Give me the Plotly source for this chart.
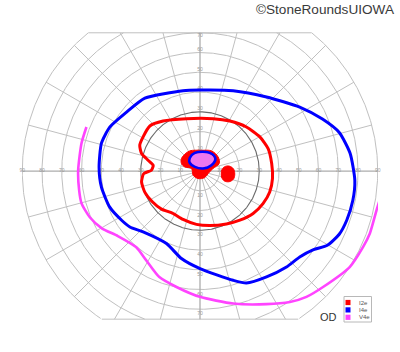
import numpy as np
import plotly.graph_objects as go

W, H = 400, 352
ML, MR, MT, MB = 22, 22, 32, 31

# ---------------- grid definition (degrees of eccentricity) ----------------
ring_ecc = [10, 20, 30, 40, 50, 60, 70, 80, 90]
meridian_deg = list(range(0, 360, 15))
top_limit = 70
bottom_limit = -75
highlight_ring = 30

h_tick_pos = [-90, -80, -70, -60, -50, -40, -30, -20, -10, 10, 20, 30, 40, 50, 60, 70, 80, 90]
h_tick_text = ["90", "80", "70", "60", "50", "40", "30", "20", "10",
               "10", "20", "30", "40", "50", "60", "70", "80", "90"]
v_top_ticks = [10, 20, 30, 40, 50, 60, 70]
v_bottom_ticks = [10, 20, 30, 40, 50, 60, 70]

# ---------------- isopters (x = horizontal ecc., y = vertical ecc., degrees) --
i2e_x = [-28.8, -25.4, -18.7, -6.8, 6.6, 15.1, 23.5, 30.3, 34.5, 36.3, 36.7, 35.3,
         31.9, 26.9, 20.2, 13.4, 5.0, -1.8, -8.6, -14.0, -19.5, -24.0, -27.9,
         -29.6, -28.5, -24.6, -23.7, -26.3, -29.6, -30.5, -28.8]
i2e_y = [17.3, 22.8, 25.3, 26.5, 26.5, 25.3, 22.3, 17.3, 11.4, 3.8, -3.8, -10.6,
         -16.5, -21.5, -24.9, -26.8, -27.6, -27.0, -24.5, -21.3, -19.3, -15.7,
         -10.8, -5.5, -1.3, 0.4, 2.9, 5.5, 8.9, 13.1, 17.3]

i4e_x = [-37.2, -27.9, -8.6, 0.0, 16.8, 33.7, 50.5, 62.0, 70.5, 76.0, 78.4,
         77.4, 74.3, 70.5, 64.5, 57.5, 50.5, 43.8, 33.7, 23.5, 16.8, 0.0, -9.4,
         -17.0, -28.8, -35.5, -39.7, -45.7, -49.9, -51.1, -49.9, -45.7, -37.2]
i4e_y = [29.8, 36.9, 40.7, 41.0, 40.7, 37.5, 32.4, 26.3, 19.5, 9.0, -4.7,
         -14.8, -24.9, -32.0, -37.6, -39.8, -43.5, -48.6, -53.6, -56.7, -55.3,
         -49.4, -44.3, -36.7, -30.8, -28.3, -24.9, -18.3, -8.2, 1.9, 14.1, 22.2, 29.8]

v4e_x = [-57.5, -60.0, -61.7, -61.2, -60.0, -55.8, -49.7, -41.6, -32.4,
         -27.3, -20.6, -11.9, -0.1, 16.8, 33.7, 45.5, 53.9, 62.3, 75.8, 82.6,
         86.0, 89.4, 91.5]
v4e_y = [22.3, 14.1, 0.4, -9.7, -16.3, -23.4, -29.0, -32.9, -38.5,
         -45.1, -53.7, -58.7, -63.7, -67.1, -67.4, -66.3, -63.7, -58.7, -48.6,
         -38.4, -31.6, -19.8, -13.0]

# central scotomas
cs_i2e_x = [-5.2, 0.8, 5.8, 9.2, 9.7, 6.6, 4.1, 2.4, -1.0, -3.5, -4.3, -7.7, -9.4, -9.4, -7.7, -5.2]
cs_i2e_y = [10.2, 10.5, 10.2, 7.1, 3.8, 1.3, -1.3, -3.3, -3.8, -2.1, 1.3, 2.1, 3.8, 6.3, 8.5, 10.2]
cs_i4e_x = [-2.6, 5.0, 7.8, 5.8, 1.6, -2.6, -5.2, -5.2, -2.6]
cs_i4e_y = [9.2, 9.2, 6.3, 2.9, 1.3, 2.1, 4.1, 6.6, 9.2]
cs_v4e_x = [-2.3, 4.7, 7.0, 5.3, 1.6, -2.4, -4.5, -4.5, -2.3]
cs_v4e_y = [8.6, 8.6, 6.1, 3.3, 1.9, 2.6, 4.4, 6.6, 8.6]

# blind spot (I2e)
bs_x = [11.0, 12.5, 14.8, 17.0, 17.6, 17.0, 14.8, 12.3, 10.9, 10.8, 11.0]
bs_y = [0.5, 2.2, 2.5, 1.0, -1.5, -4.0, -5.4, -5.0, -3.0, -1.0, 0.5]

series_names = ["I2e", "I4e", "V4e"]
series_colors = ["#ff0000", "#0000ff", "#ff44ff"]
eye_label = "OD"
credit = "©StoneRoundsUIOWA"

# ---------------- build grid traces ----------------
fig = go.Figure()

th = np.linspace(0, 2 * np.pi, 721)
gx, gy = [], []
for r in ring_ecc:
    if r == highlight_ring:
        continue
    xs = r * np.cos(th)
    ys = r * np.sin(th)
    xs = np.where((ys > top_limit) | (ys < bottom_limit), np.nan, xs)
    gx += list(xs) + [None]
    gy += list(ys) + [None]
for a in meridian_deg:
    if a % 90 == 0:
        continue
    s = np.sin(np.radians(a))
    c = np.cos(np.radians(a))
    rmax = 90
    if s > 0:
        rmax = min(rmax, top_limit / s)
    elif s < 0:
        rmax = min(rmax, bottom_limit / s)
    gx += [0, rmax * c, None]
    gy += [0, rmax * s, None]
xt = np.sqrt(90 ** 2 - top_limit ** 2)
xb = np.sqrt(90 ** 2 - bottom_limit ** 2)
gx += [-xt, xt, None, -xb, xb, None]
gy += [top_limit, top_limit, None, bottom_limit, bottom_limit, None]

fig.add_trace(go.Scatter(x=gx, y=gy, mode="lines", line=dict(color="#c0c0c0", width=1),
                         hoverinfo="skip", showlegend=False, connectgaps=False))
fig.add_trace(go.Scatter(x=[-90, 90, None, 0, 0], y=[0, 0, None, bottom_limit, top_limit],
                         mode="lines", line=dict(color="#acacac", width=1.3),
                         hoverinfo="skip", showlegend=False))
fig.add_trace(go.Scatter(x=highlight_ring * np.cos(th), y=highlight_ring * np.sin(th),
                         mode="lines", line=dict(color="#6a6a6a", width=1.1),
                         hoverinfo="skip", showlegend=False))

# tick labels
tx = list(h_tick_pos) + [0] * len(v_top_ticks) + [0] * len(v_bottom_ticks)
ty = [0] * len(h_tick_pos) + [min(v + 1.5, top_limit - 1.3) for v in v_top_ticks] + \
     [-(v + 2.5) for v in v_bottom_ticks]
tt = h_tick_text + [str(v) for v in v_top_ticks] + [str(v) for v in v_bottom_ticks]
fig.add_trace(go.Scatter(x=tx, y=ty, text=tt, mode="text",
                         textfont=dict(size=5, color="#9a9a9a", family="Liberation Sans, Arial"),
                         hoverinfo="skip", showlegend=False, cliponaxis=False))

# ---------------- isopters ----------------
fig.add_trace(go.Scatter(x=v4e_x, y=v4e_y, mode="lines",
                         line=dict(color=series_colors[2], width=2.6, shape="spline", smoothing=0.6),
                         showlegend=False, hoverinfo="skip"))
fig.add_trace(go.Scatter(x=i4e_x, y=i4e_y, mode="lines",
                         line=dict(color=series_colors[1], width=3, shape="spline", smoothing=0.6),
                         showlegend=False, hoverinfo="skip"))
fig.add_trace(go.Scatter(x=i2e_x, y=i2e_y, mode="lines",
                         line=dict(color=series_colors[0], width=3, shape="spline", smoothing=0.6),
                         showlegend=False, hoverinfo="skip"))
fig.add_trace(go.Scatter(x=cs_i2e_x, y=cs_i2e_y, mode="lines", fill="toself",
                         fillcolor=series_colors[0],
                         line=dict(color=series_colors[0], width=1, shape="spline", smoothing=1),
                         showlegend=False, hoverinfo="skip"))
fig.add_trace(go.Scatter(x=bs_x, y=bs_y, mode="lines", fill="toself",
                         fillcolor=series_colors[0],
                         line=dict(color=series_colors[0], width=1, shape="spline", smoothing=1),
                         showlegend=False, hoverinfo="skip"))
fig.add_trace(go.Scatter(x=cs_v4e_x, y=cs_v4e_y, mode="lines", fill="toself",
                         fillcolor="#ee78ee",
                         line=dict(color="#ee78ee", width=1, shape="spline", smoothing=1),
                         showlegend=False, hoverinfo="skip"))
fig.add_trace(go.Scatter(x=cs_i4e_x, y=cs_i4e_y, mode="lines",
                         line=dict(color=series_colors[1], width=2.6, shape="spline", smoothing=1),
                         showlegend=False, hoverinfo="skip"))

# ---------------- legend / annotations (pixel placed) ----------------
PW, PH = W - ML - MR, H - MT - MB


def px(x):
    return (x - ML) / PW


def py(y):
    return (H - MB - y) / PH


shapes = [dict(type="rect", xref="paper", yref="paper",
               x0=px(344), x1=px(371.5), y0=py(322), y1=py(296.5),
               line=dict(color="#b8b8b8", width=1), fillcolor="white", layer="above")]
annotations = []
for i, (nm, col) in enumerate(zip(series_names, series_colors)):
    yc = 302.5 + 7.4 * i
    shapes.append(dict(type="rect", xref="paper", yref="paper",
                       x0=px(345.5), x1=px(350.5), y0=py(yc + 2.6), y1=py(yc - 2.6),
                       line=dict(width=0), fillcolor=col, layer="above"))
    annotations.append(dict(x=px(357), y=py(yc), xref="paper", yref="paper", text=nm,
                            showarrow=False, xanchor="left", yanchor="middle",
                            font=dict(size=6, color="#555555", family="Liberation Sans, Arial")))

annotations.append(dict(x=px(328.5), y=py(316.5), xref="paper", yref="paper", text=eye_label,
                        showarrow=False, xanchor="center", yanchor="middle",
                        font=dict(size=11, color="#333333", family="Liberation Sans, Arial")))
annotations.append(dict(x=px(397), y=py(9.5), xref="paper", yref="paper", text=credit,
                        showarrow=False, xanchor="right", yanchor="middle",
                        font=dict(size=13.6, color="#3a3a3a", family="Liberation Sans, Arial")))

fig.update_layout(
    width=W, height=H,
    margin=dict(l=ML, r=MR, t=MT, b=MB, pad=0),
    paper_bgcolor="white", plot_bgcolor="white",
    xaxis=dict(range=[-90.13, 90.13], visible=False, showgrid=False, zeroline=False, fixedrange=True),
    yaxis=dict(range=[-75.93, 70.4], visible=False, showgrid=False, zeroline=False, fixedrange=True),
    shapes=shapes, annotations=annotations, showlegend=False,
)

fig.write_html("out.html", config={"displayModeBar": False})
